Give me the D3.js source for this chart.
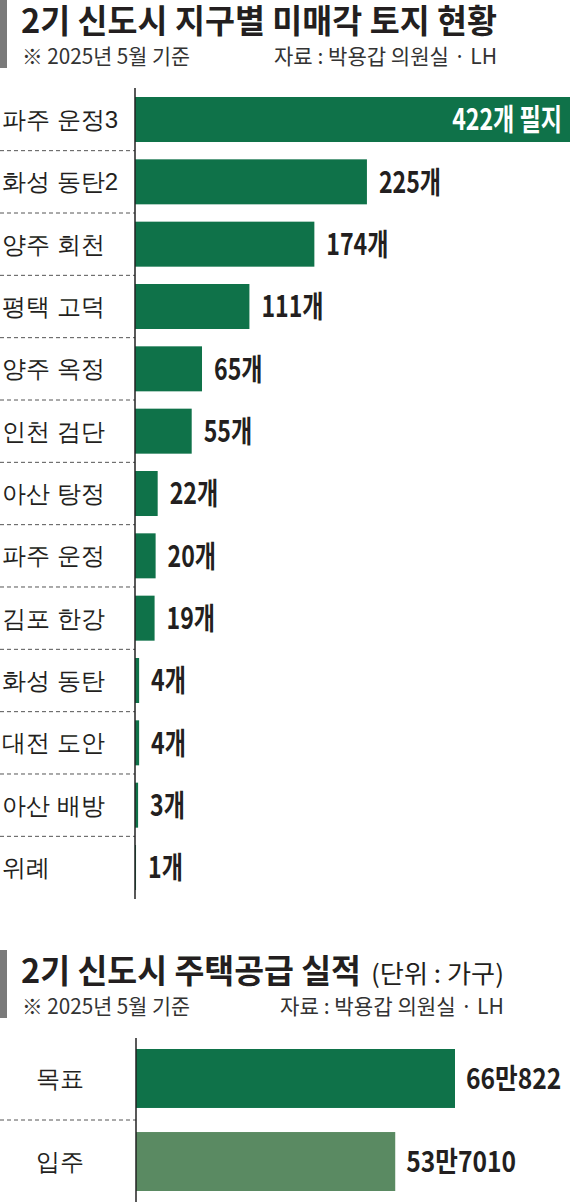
<!DOCTYPE html>
<html>
<head>
<meta charset="utf-8">
<script src="https://cdn.jsdelivr.net/npm/d3@7"></script>
<style>
  body { margin: 0; background: #fff; }
  svg { display: block; font-family: "Noto Sans CJK KR", "Noto Sans", sans-serif; }
</style>
</head>
<body>
<svg id="chart"></svg>
<script>
// 미매각 토지 (필지)
const districts = ["파주 운정3", "화성 동탄2", "양주 회천", "평택 고덕", "양주 옥정", "인천 검단",
  "아산 탕정", "파주 운정", "김포 한강", "화성 동탄", "대전 도안", "아산 배방", "위례"];
const unsoldLots = [422, 225, 174, 111, 65, 55, 22, 20, 19, 4, 4, 3, 1];

// 주택공급 실적 (가구)
const supplyCategories = ["목표", "입주"];
const supplyValues = [660822, 537010];
const supplyLabels = ["66만822", "53만7010"];

const green = "#0f7249", lightGreen = "#5a8a62", ink = "#231f20";
const W = 570, H = 1202;

const svg = d3.select("#chart").attr("width", W).attr("height", H);
svg.append("rect").attr("width", W).attr("height", H).attr("fill", "#fff");

function header(top, title, unit, titleW) {
  svg.append("rect").attr("x", 0).attr("y", top).attr("width", 7).attr("height", 68).attr("fill", "#7a7a7a");
  svg.append("text").attr("x", 21).attr("y", top + 33)
    .attr("font-size", 33).attr("font-weight", 700).attr("fill", ink)
    .attr("textLength", titleW).attr("lengthAdjust", "spacingAndGlyphs")
    .text(title);
  if (unit) {
    svg.append("text").attr("x", 371).attr("y", top + 33)
      .attr("font-size", 25).attr("fill", ink)
      .attr("textLength", 133).attr("lengthAdjust", "spacingAndGlyphs")
      .text(unit);
  }
  svg.append("text").attr("x", 22).attr("y", top + 64)
    .attr("font-size", 21).attr("fill", "#333")
    .attr("textLength", 168).attr("lengthAdjust", "spacingAndGlyphs")
    .text("※ 2025년 5월 기준");
  svg.append("text").attr("x", unit ? 504 : 497).attr("y", top + 64)
    .attr("text-anchor", "end")
    .attr("font-size", 21).attr("fill", "#333")
    .attr("textLength", unit ? 224 : 223).attr("lengthAdjust", "spacingAndGlyphs")
    .text("자료 : 박용갑 의원실 · LH");
}

// ---------- 1. 지구별 미매각 토지 ----------
header(0, "2기 신도시 지구별 미매각 토지 현황", null, 476);

const y1 = d3.scaleBand().domain(districts).range([97, 890]).paddingInner(0.278);
const x1 = d3.scaleLinear().domain([0, 422]).range([135, 570]);

const g1 = svg.append("g");

// dashed separators between rows
g1.selectAll("line.sep").data(districts.slice(1)).join("line")
  .attr("class", "sep")
  .attr("x1", 0).attr("x2", 135)
  .attr("y1", d => y1(d) - y1.step() * y1.paddingInner() / 2)
  .attr("y2", d => y1(d) - y1.step() * y1.paddingInner() / 2)
  .attr("stroke", "#555").attr("stroke-width", 1).attr("stroke-dasharray", "4,3");

g1.selectAll("rect.bar").data(districts).join("rect")
  .attr("class", "bar")
  .attr("x", x1(0))
  .attr("y", d => y1(d))
  .attr("width", (d, i) => x1(unsoldLots[i]) - x1(0))
  .attr("height", y1.bandwidth())
  .attr("fill", green);

const ax1 = g1.append("g")
  .attr("transform", `translate(${x1(0)},0)`)
  .call(d3.axisLeft(y1).tickSize(0).tickPadding(0));
ax1.select(".domain").remove();
ax1.selectAll("text")
  .attr("x", -133).attr("text-anchor", "start").attr("dy", "0.36em")
  .attr("font-family", null).attr("font-size", 24).attr("fill", ink);

g1.append("line")
  .attr("x1", x1(0)).attr("x2", x1(0))
  .attr("y1", y1.range()[0] - 9).attr("y2", y1.range()[1] + 9)
  .attr("stroke", "#222").attr("stroke-width", 1.5);

// value labels, squeezed with scale() since the original face is condensed
g1.selectAll("text.val").data(districts).join("text")
  .attr("class", "val")
  .attr("transform", (d, i) => {
    const x = i === 0 ? x1(unsoldLots[i]) - 8 : x1(unsoldLots[i]) + 12;
    return `translate(${x},${y1(d) + y1.bandwidth() / 2}) scale(0.77,1)`;
  })
  .attr("dy", "0.36em")
  .attr("text-anchor", (d, i) => i === 0 ? "end" : "start")
  .attr("font-size", 30).attr("font-weight", 700)
  .attr("fill", (d, i) => i === 0 ? "#fff" : ink)
  .text((d, i) => i === 0 ? unsoldLots[i] + "개 필지" : unsoldLots[i] + "개");

// ---------- 2. 주택공급 실적 ----------
header(950, "2기 신도시 주택공급 실적", "(단위 : 가구)", 340);

const y2 = d3.scaleBand().domain(supplyCategories).range([1049, 1191]).paddingInner(0.29);
const x2 = d3.scaleLinear().domain([0, 660822]).range([136, 455]);

const g2 = svg.append("g");

g2.selectAll("line.sep").data(supplyCategories.slice(1)).join("line")
  .attr("class", "sep")
  .attr("x1", 0).attr("x2", 136)
  .attr("y1", d => y2(d) - y2.step() * y2.paddingInner() / 2)
  .attr("y2", d => y2(d) - y2.step() * y2.paddingInner() / 2)
  .attr("stroke", "#555").attr("stroke-width", 1).attr("stroke-dasharray", "4,3");

g2.selectAll("rect.bar").data(supplyCategories).join("rect")
  .attr("class", "bar")
  .attr("x", x2(0))
  .attr("y", d => y2(d))
  .attr("width", (d, i) => x2(supplyValues[i]) - x2(0))
  .attr("height", y2.bandwidth())
  .attr("fill", (d, i) => i === 0 ? green : lightGreen);

const ax2 = g2.append("g")
  .attr("transform", `translate(${x2(0)},0)`)
  .call(d3.axisLeft(y2).tickSize(0).tickPadding(0));
ax2.select(".domain").remove();
ax2.selectAll("text")
  .attr("x", 60 - x2(0)).attr("text-anchor", "middle").attr("dy", "0.36em")
  .attr("font-family", null).attr("font-size", 24).attr("fill", ink);

g2.append("line")
  .attr("x1", x2(0)).attr("x2", x2(0))
  .attr("y1", y2.range()[0] - 11).attr("y2", H)
  .attr("stroke", "#222").attr("stroke-width", 1.5);

g2.selectAll("text.val").data(supplyCategories).join("text")
  .attr("class", "val")
  .attr("transform", (d, i) =>
    `translate(${x2(supplyValues[i]) + 11},${y2(d) + y2.bandwidth() / 2}) scale(0.88,1)`)
  .attr("dy", "0.36em")
  .attr("font-size", 28).attr("font-weight", 700).attr("fill", ink)
  .text((d, i) => supplyLabels[i]);
</script>
</body>
</html>
